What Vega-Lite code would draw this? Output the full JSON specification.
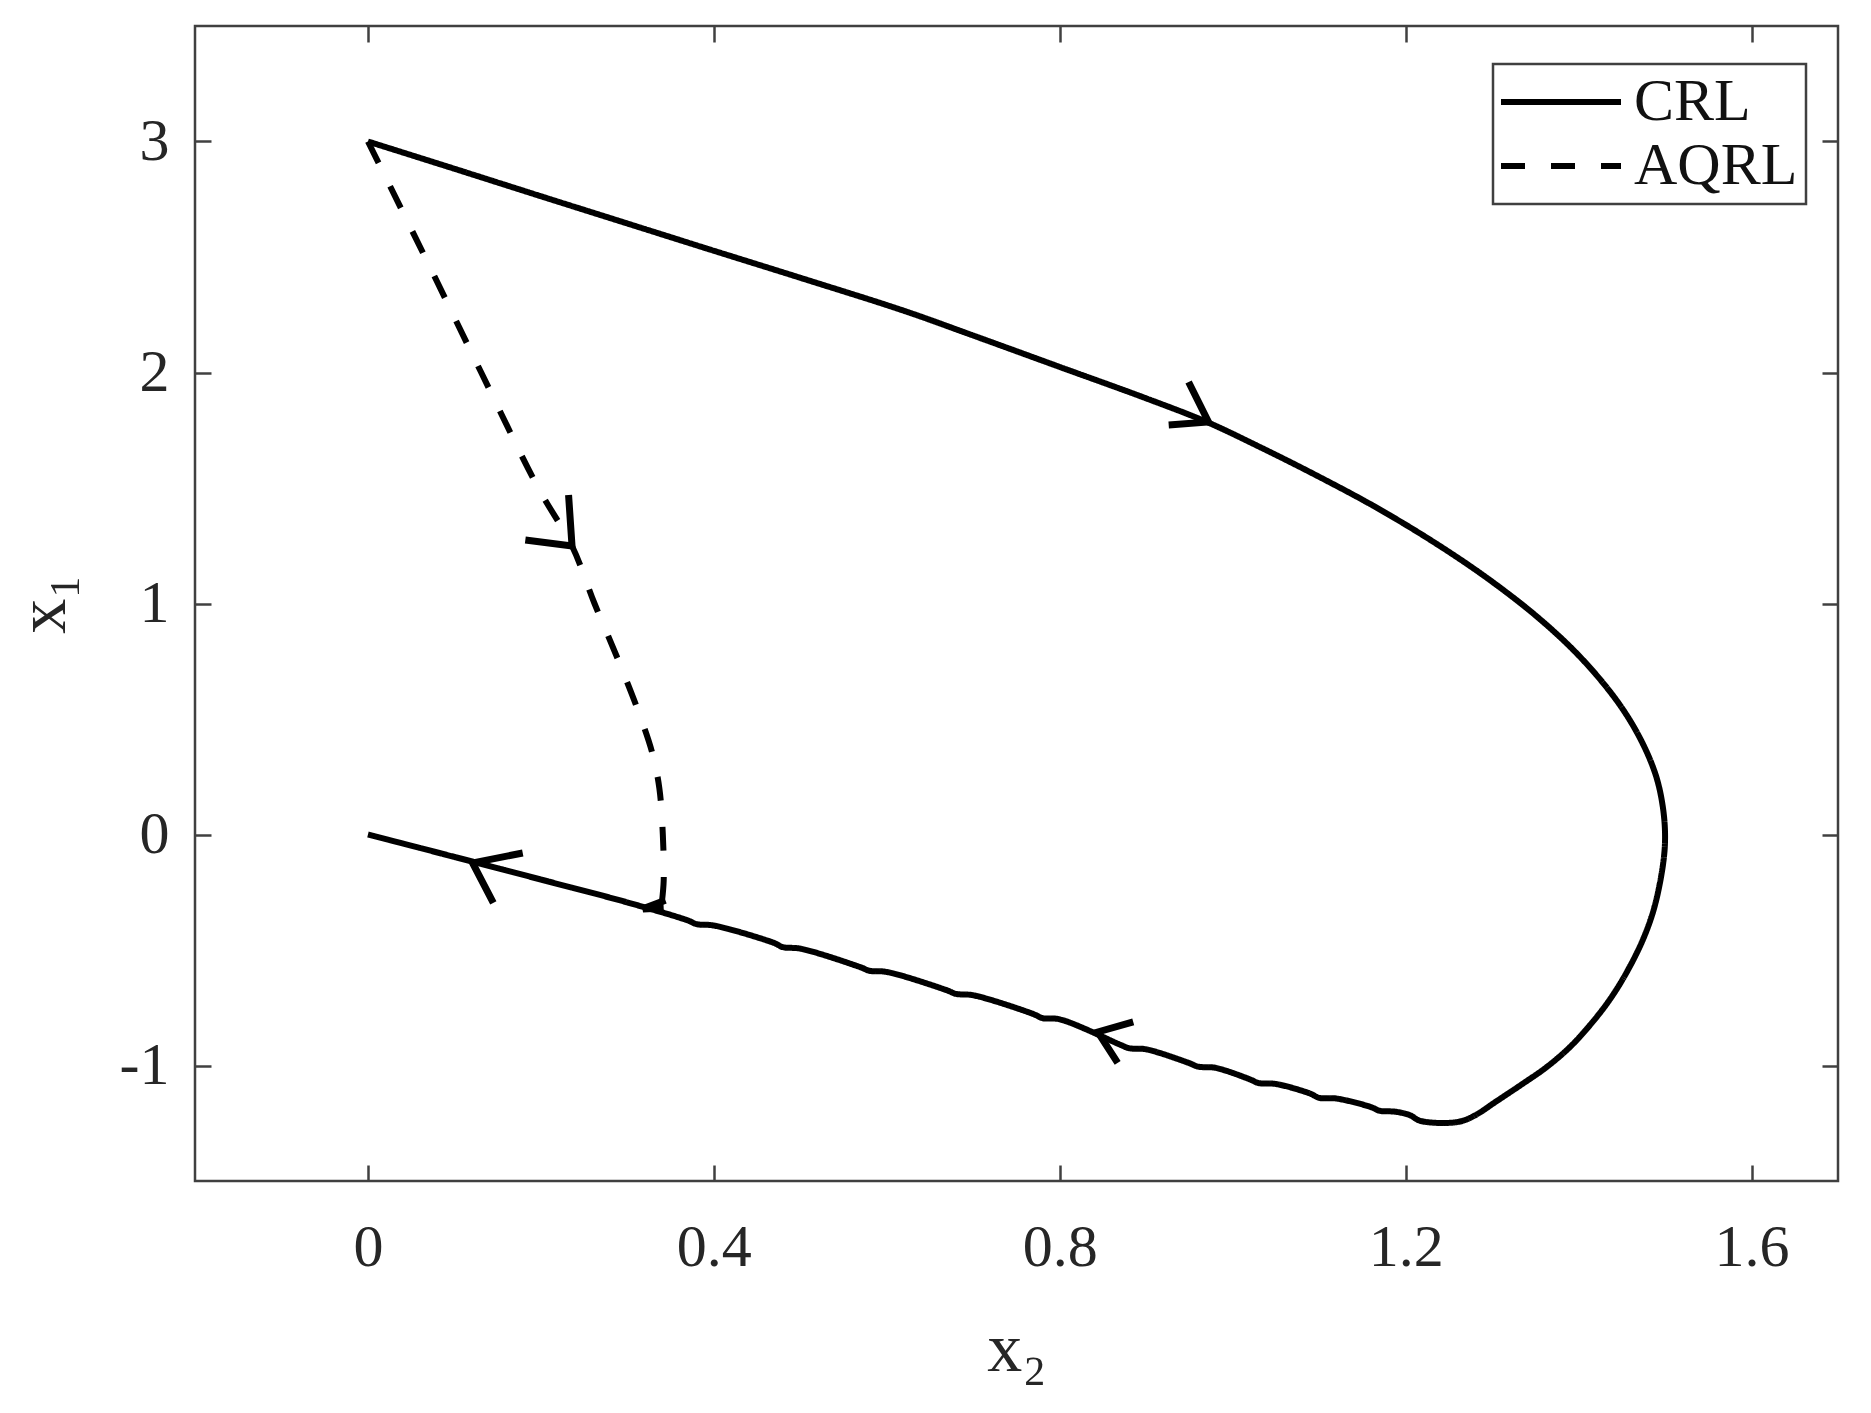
{
  "$schema": "https://vega.github.io/schema/vega-lite/v6.json",
  "width": 1643,
  "height": 1155,
  "autosize": {"type": "none"},
  "padding": {"left": 195, "top": 26, "right": 33, "bottom": 232},
  "background": "white",
  "config": {
    "view": {"stroke": "#404040", "strokeWidth": 2.5},
    "axis": {
      "domain": false,
      "grid": false,
      "tickColor": "#404040",
      "tickWidth": 2.5,
      "tickSize": -16,
      "labelFont": "Liberation Serif",
      "labelFontSize": 60,
      "labelColor": "#262626",
      "titleFont": "Liberation Serif",
      "titleFontSize": 70,
      "titleFontWeight": "normal",
      "titleColor": "#262626"
    },
    "legend": {"strokeWidth": 2.5}
  },
  "datasets": {
    "paths": [
      {"m": "CRL", "i": 0, "x2": 0, "x1": 3},
      {"m": "CRL", "i": 1, "x2": 0.1, "x1": 2.882},
      {"m": "CRL", "i": 2, "x2": 0.2, "x1": 2.763},
      {"m": "CRL", "i": 3, "x2": 0.3, "x1": 2.645},
      {"m": "CRL", "i": 4, "x2": 0.4, "x1": 2.527},
      {"m": "CRL", "i": 5, "x2": 0.5, "x1": 2.41},
      {"m": "CRL", "i": 6, "x2": 0.62, "x1": 2.267},
      {"m": "CRL", "i": 7, "x2": 0.7, "x1": 2.16},
      {"m": "CRL", "i": 8, "x2": 0.8, "x1": 2.024},
      {"m": "CRL", "i": 9, "x2": 0.9, "x1": 1.888},
      {"m": "CRL", "i": 10, "x2": 0.97, "x1": 1.786},
      {"m": "CRL", "i": 11, "x2": 1.03, "x1": 1.68},
      {"m": "CRL", "i": 12, "x2": 1.094, "x1": 1.56},
      {"m": "CRL", "i": 13, "x2": 1.164, "x1": 1.42},
      {"m": "CRL", "i": 14, "x2": 1.235, "x1": 1.26},
      {"m": "CRL", "i": 15, "x2": 1.298, "x1": 1.1},
      {"m": "CRL", "i": 16, "x2": 1.356, "x1": 0.93},
      {"m": "CRL", "i": 17, "x2": 1.404, "x1": 0.76},
      {"m": "CRL", "i": 18, "x2": 1.446, "x1": 0.57},
      {"m": "CRL", "i": 19, "x2": 1.472, "x1": 0.41},
      {"m": "CRL", "i": 20, "x2": 1.489, "x1": 0.26},
      {"m": "CRL", "i": 21, "x2": 1.497, "x1": 0.13},
      {"m": "CRL", "i": 22, "x2": 1.5, "x1": 0.0},
      {"m": "CRL", "i": 23, "x2": 1.498, "x1": -0.12},
      {"m": "CRL", "i": 24, "x2": 1.488, "x1": -0.31},
      {"m": "CRL", "i": 25, "x2": 1.475, "x1": -0.45},
      {"m": "CRL", "i": 26, "x2": 1.456, "x1": -0.594},
      {"m": "CRL", "i": 27, "x2": 1.436, "x1": -0.715},
      {"m": "CRL", "i": 28, "x2": 1.413, "x1": -0.826},
      {"m": "CRL", "i": 29, "x2": 1.39, "x1": -0.92},
      {"m": "CRL", "i": 30, "x2": 1.363, "x1": -1.007},
      {"m": "CRL", "i": 31, "x2": 1.333, "x1": -1.085},
      {"m": "CRL", "i": 32, "x2": 1.303, "x1": -1.16},
      {"m": "CRL", "i": 33, "x2": 1.283, "x1": -1.21},
      {"m": "CRL", "i": 34, "x2": 1.268, "x1": -1.237},
      {"m": "CRL", "i": 35, "x2": 1.255, "x1": -1.247},
      {"m": "CRL", "i": 36, "x2": 1.23, "x1": -1.247},
      {"m": "CRL", "i": 37, "x2": 1.215, "x1": -1.237},
      {"m": "CRL", "i": 38, "x2": 1.205, "x1": -1.215},
      {"m": "CRL", "i": 39, "x2": 1.188, "x1": -1.2},
      {"m": "CRL", "i": 40, "x2": 1.17, "x1": -1.196},
      {"m": "CRL", "i": 41, "x2": 1.16, "x1": -1.18},
      {"m": "CRL", "i": 42, "x2": 1.12, "x1": -1.143},
      {"m": "CRL", "i": 43, "x2": 1.1, "x1": -1.14},
      {"m": "CRL", "i": 44, "x2": 1.09, "x1": -1.122},
      {"m": "CRL", "i": 45, "x2": 1.05, "x1": -1.08},
      {"m": "CRL", "i": 46, "x2": 1.03, "x1": -1.076},
      {"m": "CRL", "i": 47, "x2": 1.02, "x1": -1.06},
      {"m": "CRL", "i": 48, "x2": 0.98, "x1": -1.01},
      {"m": "CRL", "i": 49, "x2": 0.96, "x1": -1.005},
      {"m": "CRL", "i": 50, "x2": 0.95, "x1": -0.99},
      {"m": "CRL", "i": 51, "x2": 0.9, "x1": -0.93},
      {"m": "CRL", "i": 52, "x2": 0.88, "x1": -0.925},
      {"m": "CRL", "i": 53, "x2": 0.87, "x1": -0.91},
      {"m": "CRL", "i": 54, "x2": 0.8, "x1": -0.8},
      {"m": "CRL", "i": 55, "x2": 0.78, "x1": -0.795},
      {"m": "CRL", "i": 56, "x2": 0.77, "x1": -0.778},
      {"m": "CRL", "i": 57, "x2": 0.7, "x1": -0.696},
      {"m": "CRL", "i": 58, "x2": 0.68, "x1": -0.69},
      {"m": "CRL", "i": 59, "x2": 0.67, "x1": -0.675},
      {"m": "CRL", "i": 60, "x2": 0.6, "x1": -0.595},
      {"m": "CRL", "i": 61, "x2": 0.58, "x1": -0.59},
      {"m": "CRL", "i": 62, "x2": 0.57, "x1": -0.575},
      {"m": "CRL", "i": 63, "x2": 0.5, "x1": -0.494},
      {"m": "CRL", "i": 64, "x2": 0.48, "x1": -0.488},
      {"m": "CRL", "i": 65, "x2": 0.47, "x1": -0.47},
      {"m": "CRL", "i": 66, "x2": 0.4, "x1": -0.394},
      {"m": "CRL", "i": 67, "x2": 0.38, "x1": -0.388},
      {"m": "CRL", "i": 68, "x2": 0.37, "x1": -0.372},
      {"m": "CRL", "i": 69, "x2": 0.3, "x1": -0.294},
      {"m": "CRL", "i": 70, "x2": 0.2, "x1": -0.195},
      {"m": "CRL", "i": 71, "x2": 0.1, "x1": -0.097},
      {"m": "CRL", "i": 72, "x2": 0, "x1": 0},
      {"m": "AQRL", "i": 0, "x2": 0, "x1": 3},
      {"m": "AQRL", "i": 1, "x2": 0.066, "x1": 2.5},
      {"m": "AQRL", "i": 2, "x2": 0.131, "x1": 2.0},
      {"m": "AQRL", "i": 3, "x2": 0.197, "x1": 1.5},
      {"m": "AQRL", "i": 4, "x2": 0.236, "x1": 1.249},
      {"m": "AQRL", "i": 5, "x2": 0.262, "x1": 1.0},
      {"m": "AQRL", "i": 6, "x2": 0.29, "x1": 0.75},
      {"m": "AQRL", "i": 7, "x2": 0.314, "x1": 0.52},
      {"m": "AQRL", "i": 8, "x2": 0.329, "x1": 0.35},
      {"m": "AQRL", "i": 9, "x2": 0.337, "x1": 0.2},
      {"m": "AQRL", "i": 10, "x2": 0.341, "x1": 0.0},
      {"m": "AQRL", "i": 11, "x2": 0.342, "x1": -0.2},
      {"m": "AQRL", "i": 12, "x2": 0.34, "x1": -0.29}
    ],
    "arrows": [
      {"a": 1, "j": 0, "x2": 0.949, "x1": 1.959},
      {"a": 1, "j": 1, "x2": 0.972, "x1": 1.786},
      {"a": 1, "j": 2, "x2": 0.926, "x1": 1.773},
      {"a": 2, "j": 0, "x2": 0.885, "x1": -0.811},
      {"a": 2, "j": 1, "x2": 0.844, "x1": -0.855},
      {"a": 2, "j": 2, "x2": 0.867, "x1": -0.989},
      {"a": 3, "j": 0, "x2": 0.179, "x1": -0.08},
      {"a": 3, "j": 1, "x2": 0.121, "x1": -0.123},
      {"a": 3, "j": 2, "x2": 0.145, "x1": -0.296},
      {"a": 4, "j": 0, "x2": 0.232, "x1": 1.47},
      {"a": 4, "j": 1, "x2": 0.236, "x1": 1.249},
      {"a": 4, "j": 2, "x2": 0.182, "x1": 1.275},
      {"a": 5, "j": 0, "x2": 0.344, "x1": -0.285},
      {"a": 5, "j": 1, "x2": 0.318, "x1": -0.322},
      {"a": 5, "j": 2, "x2": 0.342, "x1": -0.318}
    ]
  },
  "layer": [
    {
      "data": {"name": "paths"},
      "mark": {"type": "line", "strokeWidth": 6, "color": "black", "strokeJoin": "round", "interpolate": "catmull-rom"},
      "encoding": {
        "x": {
          "field": "x2", "type": "quantitative",
          "scale": {"domain": [-0.2, 1.7], "nice": false, "zero": false},
          "axis": {"orient": "bottom", "values": [0, 0.4, 0.8, 1.2, 1.6], "labelExpr": "'' + datum.value", "title": "x₂", "labelPadding": 53, "titlePadding": 38}
        },
        "y": {
          "field": "x1", "type": "quantitative",
          "scale": {"domain": [-1.5, 3.5], "nice": false, "zero": false},
          "axis": {"orient": "left", "values": [-1, 0, 1, 2, 3], "labelExpr": "'' + datum.value", "title": "x₁", "labelPadding": 42, "titlePadding": 40}
        },
        "strokeDash": {
          "field": "m", "type": "nominal",
          "scale": {"domain": ["CRL", "AQRL"], "range": [[1, 0], [24, 26]]},
          "legend": {
            "orient": "none", "legendX": 1298, "legendY": 38, "title": null,
            "symbolType": "M-6,0H6", "symbolSize": 400, "symbolStrokeWidth": 6,
            "symbolStrokeColor": "black", "symbolFillColor": "transparent",
            "symbolOffset": 30, "labelOffset": 43, "labelLimit": 0,
            "labelFont": "Liberation Serif", "labelFontSize": 60, "labelColor": "#111111",
            "strokeColor": "#404040", "fillColor": "white",
            "padding": 8, "rowPadding": 4
          }
        },
        "order": {"field": "i", "type": "quantitative"}
      }
    },
    {
      "data": {"name": "arrows"},
      "mark": {"type": "line", "strokeWidth": 7, "color": "black", "strokeJoin": "miter"},
      "encoding": {
        "x": {
          "field": "x2", "type": "quantitative",
          "scale": {"domain": [-0.2, 1.7], "nice": false, "zero": false},
          "axis": {"orient": "top", "values": [0, 0.4, 0.8, 1.2, 1.6], "labels": false, "title": null}
        },
        "y": {
          "field": "x1", "type": "quantitative",
          "scale": {"domain": [-1.5, 3.5], "nice": false, "zero": false},
          "axis": {"orient": "right", "values": [-1, 0, 1, 2, 3], "labels": false, "title": null}
        },
        "detail": {"field": "a", "type": "nominal"},
        "order": {"field": "j", "type": "quantitative"}
      }
    }
  ]
}
